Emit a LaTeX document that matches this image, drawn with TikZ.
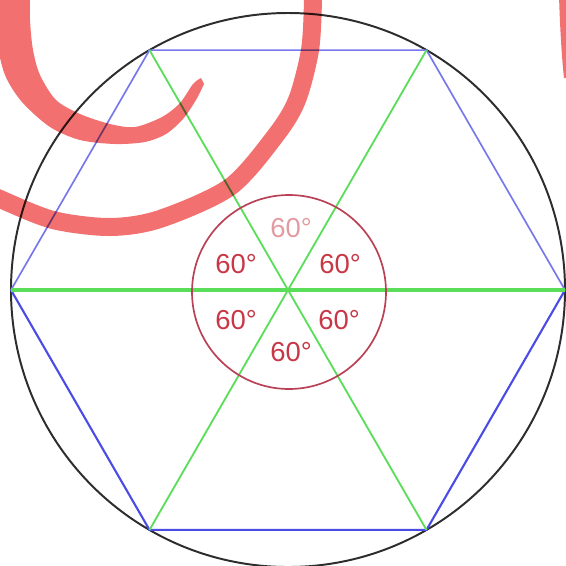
\documentclass[tikz,border=0pt]{standalone}
\usepackage{fontspec}
\setmainfont{Liberation Sans}
\definecolor{rimgray}{RGB}{45,45,45}
\definecolor{hexblue}{RGB}{75,75,230}
\definecolor{spokegreen}{RGB}{90,222,90}
\definecolor{anglered}{RGB}{200,55,70}
\definecolor{ringred}{RGB}{185,65,85}
\definecolor{swirlred}{RGB}{242,112,112}
\begin{document}
\begin{tikzpicture}[
    x=0.025cm, y=-0.025cm,
    rim/.style={draw=rimgray, line width=1.4pt},
    side/.style={draw=hexblue, line width=1.5pt},
    spoke/.style={draw=spokegreen, line width=1.3pt},
    ring/.style={draw=ringred, line width=1.2pt},
    arc60/.style={font=\fontsize{19.5}{20}\selectfont, text=anglered, inner sep=0pt},
    swirl/.style={fill=swirlred},
]
    \useasboundingbox (0,0) rectangle (566,566);
    \coordinate (o) at (288,290);
    \coordinate (c) at (289,292);
    % Outer circle and hexagon corners
    \draw[rim] (o) circle (277);
    \foreach \i in {0,...,5} {
        \pgfmathsetmacro{\ang}{\i * 60}
        \coordinate (v\i) at ([shift={(\ang:277)}]o);
    }
    \draw[side] (v3) -- (v2) -- (v1) -- (v0);
    \draw[side, draw=hexblue!75, line width=1.2pt] (v0) -- (v5) -- (v4) -- (v3);
    % Diagonals through the centre
    \draw[spoke] (v1) -- (v4);
    \draw[spoke] (v2) -- (v5);
    \draw[spoke, line width=2.6pt] (v3) -- (v0);
    % Angle ring and labels
    \draw[ring] (c) circle (97);
    \node[arc60, text=anglered!50] (a1) at (291,228) {60°};
    \node[arc60] (a2) at (236,264) {60°};
    \node[arc60] (a3) at (340,264) {60°};
    \node[arc60] (a4) at (236,320) {60°};
    \node[arc60] (a5) at (339,320) {60°};
    \node[arc60] (a6) at (291,352) {60°};
    % Swirl
    \begin{scope}[blend mode=multiply]
    \fill[swirl] plot[smooth] coordinates {(-5,-10) (-3,40) (5,75) (22,102) (50,127) (80,140) (115,144) (145,142) (166,134) (183,119) (196,100) (204,84)}
        -- plot[smooth] coordinates {(201,78) (193,84) (180,103) (162,117) (135,127) (110,124) (80,114) (56,100) (40,75) (33,50) (30,20) (30,-10)} -- cycle;
    \draw[draw=swirlred, line width=0.45cm] plot[smooth] coordinates {(-30,185) (0,199) (53,220) (110,227) (160,219) (230,187) (276,135) (297,100) (310,50) (313,0) (312,-20)};
    \fill[swirl] (559,-5) .. controls (560,30) and (562,60) .. (564,78) -- (568,78) -- (570,-5) -- cycle;
    \end{scope}
\end{tikzpicture}
\end{document}
